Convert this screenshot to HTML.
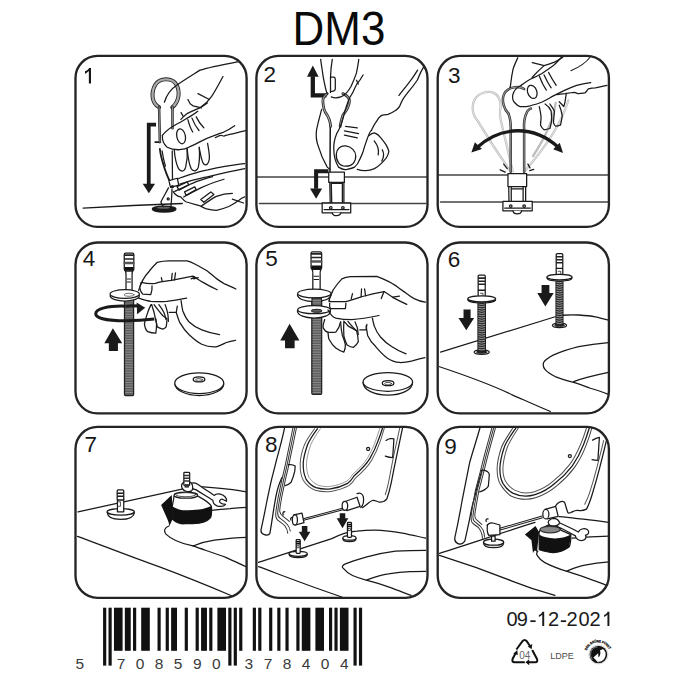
<!DOCTYPE html>
<html><head><meta charset="utf-8"><style>
html,body{margin:0;padding:0;background:#fff;width:685px;height:685px;overflow:hidden}
svg{position:absolute;left:0;top:0;font-family:"Liberation Sans",sans-serif}
</style></head><body>
<svg width="685" height="685" viewBox="0 0 685 685">
<defs><clipPath id="c0"><rect x="75.5" y="55.9" width="171.1" height="171.0" rx="22" ry="22"/></clipPath><clipPath id="c1"><rect x="256.4" y="55.9" width="171.1" height="171.0" rx="22" ry="22"/></clipPath><clipPath id="c2"><rect x="437.7" y="55.9" width="171.2" height="171.0" rx="22" ry="22"/></clipPath><clipPath id="c3"><rect x="75.5" y="242.5" width="171.1" height="170.9" rx="22" ry="22"/></clipPath><clipPath id="c4"><rect x="256.4" y="242.5" width="171.1" height="170.9" rx="22" ry="22"/></clipPath><clipPath id="c5"><rect x="437.7" y="242.5" width="171.2" height="170.9" rx="22" ry="22"/></clipPath><clipPath id="c6"><rect x="75.5" y="426.9" width="171.1" height="170.9" rx="22" ry="22"/></clipPath><clipPath id="c7"><rect x="256.4" y="426.9" width="171.1" height="170.9" rx="22" ry="22"/></clipPath><clipPath id="c8"><rect x="437.7" y="426.9" width="171.2" height="170.9" rx="22" ry="22"/></clipPath></defs>
<rect width="685" height="685" fill="#fff"/>
<g clip-path="url(#c0)"><g transform="translate(75,55) scale(0.252555)" fill="none" stroke="#1a1a1a" stroke-width="5" stroke-linecap="round" stroke-linejoin="round"><!-- ground -->
<path d="M32,606 C150,599 300,592 425,588"/>
<!-- hole -->
<ellipse cx="353" cy="610" rx="47" ry="12" fill="#1a1a1a"/>
<ellipse cx="350" cy="605" rx="26" ry="4" fill="#666" stroke="none"/>
<!-- arrow bracket -->
<path d="M321,276 L292,276 L292,512" stroke-width="15" stroke-linecap="butt" stroke-linejoin="miter"/>
<path d="M268,510 L317,510 L292.5,547 Z" fill="#1a1a1a" stroke="none"/>
<path d="M318,345 L338,345" stroke-width="7"/>
<!-- ring -->
<path d="M333,207 C303,190 300,150 318,118 C335,90 385,88 402,118 C418,148 410,188 385,207" stroke="#2a2a2a" stroke-width="16"/>
<path d="M333,207 C303,190 300,150 318,118 C335,90 385,88 402,118 C418,148 410,188 385,207" stroke="#aaa" stroke-width="9"/>
<!-- legs -->
<g stroke="#2a2a2a" stroke-width="10"><path d="M333,205 L336,345"/><path d="M386,205 L386,290"/></g>
<g stroke="#aaa" stroke-width="3"><path d="M333,205 L336,345"/><path d="M386,205 L386,290"/></g>
<!-- pin lower -->
<path d="M336,372 C338,395 345,420 355,450 C362,470 368,485 373,495" stroke-width="7"/>
<path d="M385,380 L386,490"/>
<path d="M345,380 C348,400 352,420 358,440"/>
<path d="M370,526 C360,545 350,562 340,582 M384,530 C384,550 382,575 380,600 M340,582 C342,590 345,596 350,600"/>
<path d="M372,497 L405,488 L411,515 L378,524 Z" fill="#fff"/>
<circle cx="386" cy="521" r="4"/><circle cx="369" cy="570" r="4"/>
<!-- hand top edge -->
<path d="M354,187 C362,160 380,135 405,118 C430,100 460,82 495,60 C530,48 590,37 668,22"/>
<!-- index finger -->
<path d="M586,85 C575,105 560,135 541,164 C530,180 520,192 500,205"/>
<path d="M487,153 L532,176"/>
<path d="M447,176 L456,193 L467,201 L501,209"/>
<path d="M419,255 C428,246 436,238 444,232 C462,222 480,215 495,209 C505,203 515,196 524,190"/>
<path d="M420,228 L428,242"/>
<!-- thumb -->
<path d="M346,318 C360,300 380,286 400,275 C420,265 440,252 458,242 C470,235 480,228 486,223"/>
<path d="M346,318 C345,335 352,355 365,365 C378,372 395,376 415,375 C430,374 442,370 453,364 C470,357 485,349 496,343 C515,333 530,326 545,321 C560,315 575,309 589,305 C605,298 618,290 632,280"/>
<path d="M556,327 C565,322 572,318 578,318 C583,318 586,321 589,321 C595,320 600,316 605,316 C615,314 623,312 632,310 C650,306 662,302 675,299"/>
<ellipse cx="420" cy="322" rx="17" ry="30" transform="rotate(-12 420 322)"/>
<path d="M447,256 C452,275 458,292 466,305 M463,250 C470,268 480,286 491,299 M480,245 C488,262 498,276 510,288"/>
<!-- lower fingers -->
<path d="M393,376 C395,400 400,430 410,450 C418,462 432,465 438,445 C444,420 446,395 444,370"/>
<path d="M444,372 C447,400 450,430 460,450 C468,462 482,462 488,445 C494,420 494,395 492,365"/>
<path d="M492,368 C497,392 500,420 510,432 C520,440 530,430 532,410 C533,390 528,370 525,350"/>
<!-- lower hand -->
<path d="M410,489 C430,482 445,477 454,474 C480,466 505,459 526,455 C550,449 575,444 599,440 C625,436 650,432 672,430"/>
<path d="M415,511 C450,500 485,491 517,484 C560,474 620,460 672,450"/>
<path d="M395,540 C420,528 440,520 460,510 C490,498 520,488 545,482"/>
<path d="M404,521 L444,503 L451,514 L412,535 Z"/>
<path d="M434,542 L474,522 L480,533 L440,556 Z"/>
<path d="M498,572 L538,542 L550,552 L510,583 Z"/>
<path d="M388,540 C395,552 405,560 419,562 C428,572 432,578 439,581 C460,588 478,592 492,596 C500,600 508,605 517,608 C535,613 548,615 560,615 C580,611 595,606 609,600 C625,592 637,584 648,576 C655,570 663,565 672,562"/>
<path d="M430,562 C455,548 480,535 500,525 C530,512 560,500 590,492"/>
<path d="M500,598 C520,585 540,570 560,560 C580,552 600,548 623,548 M623,571 L667,586"/>
</g></g><g clip-path="url(#c1)"><g transform="translate(256,55) scale(0.252555)" fill="none" stroke="#1a1a1a" stroke-width="5" stroke-linecap="round" stroke-linejoin="round"><!-- surface lines -->
<path d="M4,483.5 L676,483.5" stroke="#444" stroke-width="6"/>
<path d="M14,588 L672,588" stroke="#444" stroke-width="6"/>
<!-- up arrow -->
<path d="M279,160 L225,160 L225,84" stroke-width="17" stroke-linecap="butt" stroke-linejoin="miter"/>
<path d="M202,86 L248,86 L225,42 Z" fill="#1a1a1a" stroke="none"/>
<!-- down arrow -->
<path d="M287,460 L238,460 L238,530" stroke-width="16" stroke-linecap="butt" stroke-linejoin="miter"/>
<path d="M214,529 L262,529 L238,569 Z" fill="#1a1a1a" stroke="none"/>
<!-- pin rod -->
<path d="M294,283 L293,462" stroke-width="6"/>
<!-- pin ring in fingers -->
<path d="M282,153 C270,162 263,172 265,185 C266,200 268,215 275,228 C282,238 292,248 296,283 M344,153 C360,160 372,170 370,185 C368,205 355,225 344,238 C338,255 335,270 333,283" stroke="#2a2a2a" stroke-width="11"/><path d="M282,153 C270,162 263,172 265,185 C266,200 268,215 275,228 C282,238 292,248 296,283 M344,153 C360,160 372,170 370,185 C368,205 355,225 344,238 C338,255 335,270 333,283" stroke="#aaa" stroke-width="4"/>
<!-- fingers from top -->
<path d="M256,17 C259,40 262,57 265,80 C268,100 271,110 274,125 C276,135 279,147 282,153"/>
<path d="M302,17 C298,40 296,60 295,88 L295,148"/>
<path d="M295,88 L308,88 Q314,89 314,96 L314,135 Q313,142 306,143 L295,145"/>
<path d="M407,17 C405,35 402,50 398,70 C392,90 385,105 376,125 C365,145 350,160 338,165 C325,170 310,171 298,166"/>
<path d="M424,79 C415,95 408,105 400,114 C392,128 388,138 384,147 C378,157 374,165 370,170"/>
<path d="M398,100 L405,115"/>
<!-- left sliver -->
<path d="M260,215 C252,245 245,270 240,295 C236,320 240,345 248,365 C255,390 265,415 282,444 L293,453"/>
<!-- thumb -->
<path d="M370,170 C360,195 350,225 345,250 C338,275 330,295 320,310 C312,330 307,350 308,370 C308,395 312,420 327,444 C340,453 352,455 361,453 C375,450 385,447 390,444 C400,435 405,428 407,421 C415,405 420,395 424,382 C430,360 436,345 441,330 C448,310 452,298 458,298"/>
<path d="M668,40 C655,60 648,75 639,99 C625,120 615,132 604,145 C592,160 582,172 576,186 C572,196 570,202 567,206 C562,212 558,216 552,220 C542,227 533,231 523,235 C515,237 507,237 500,238 C494,241 490,245 486,249 C480,258 476,265 471,272 C465,282 461,290 457,298"/>
<path d="M640,60 C625,85 610,105 596,122 C585,135 575,148 566,160"/>
<path d="M318,392 C320,370 335,358 355,360 C378,363 395,380 395,400 C395,425 380,440 355,440 C330,440 316,418 318,392 Z"/>
<path d="M355,283 L401,289 M350,300 L406,311 M350,317 L401,328"/>
<!-- right fingers curl -->
<path d="M446,320 C455,312 462,308 469,308 C480,312 487,318 492,325 C500,335 508,345 514,354 C520,365 525,375 526,382 C524,395 520,402 514,410 C505,420 498,428 492,433 C485,440 475,447 469,450 C455,456 445,458 435,458 C420,459 410,456 401,453"/>
<path d="M468,340 C480,355 488,375 484,395 M500,375 C508,390 505,408 498,420"/>
<!-- anchor -->
<rect x="288" y="464" width="62" height="40" fill="#fff"/>
<path d="M292,504 L294,592 M298,504 L300,592 M342,504 L342,592 M348,504 L348,592"/>
<path d="M300,508 L342,508"/>
<rect x="262" y="586" width="113" height="39" fill="#fff"/>
<path d="M270,612 L368,612"/>
<path d="M302,625 C305,640 332,640 336,625" fill="#fff"/>
<circle cx="296" cy="605" r="5"/><circle cx="344" cy="605" r="5"/>
</g></g><g clip-path="url(#c2)"><g transform="translate(437,55) scale(0.252555)" fill="none" stroke="#1a1a1a" stroke-width="5" stroke-linecap="round" stroke-linejoin="round"><path d="M4,475 L676,475" stroke="#444" stroke-width="6"/>
<path d="M14,582 L676,582" stroke="#444" stroke-width="6"/>
<!-- ghost pins -->
<g stroke="#bdbdbd" stroke-width="9">
<path d="M162,262 C140,240 135,200 150,175 C165,150 200,140 225,150 C250,162 255,195 250,220 C248,235 252,260 260,290 L300,460"/>
<path d="M162,262 C185,300 220,360 292,462"/>
<path d="M520,180 C505,230 470,320 345,462"/>
<path d="M470,190 C460,260 420,340 380,400"/>
</g>
<g stroke="#f3f3f3" stroke-width="3">
<path d="M162,262 C140,240 135,200 150,175 C165,150 200,140 225,150 C250,162 255,195 250,220 C248,235 252,260 260,290 L300,460"/>
<path d="M162,262 C185,300 220,360 292,462"/>
<path d="M520,180 C505,230 470,320 345,462"/>
</g>
<!-- dark pin -->
<g stroke="#333" stroke-width="10">
<path d="M283,232 C265,215 258,185 262,165 C268,140 290,128 318,127 C330,127 338,130 345,135"/>
<path d="M283,232 C290,250 293,270 292,300 L292,462"/>
<path d="M345,300 C342,260 348,240 358,222 C365,215 370,212 372,212 M345,300 L345,462"/>
</g>
<g stroke="#999" stroke-width="4">
<path d="M283,232 C265,215 258,185 262,165 C268,140 290,128 318,127 C330,127 338,130 345,135"/>
<path d="M283,232 C290,250 293,270 292,300 L292,462"/>
<path d="M345,300 C342,260 348,240 358,222 C365,215 370,212 372,212 M345,300 L345,462"/>
</g>
<!-- sparks -->
<path d="M264,432 L278,450 M250,455 L270,464 M360,432 L368,447 M367,458 L383,453"/>
<!-- curved double arrow -->
<path d="M160,365 C210,320 270,300 320,300 C370,300 430,320 480,365" stroke-width="13" stroke-linecap="butt"/>
<path d="M136,386 L150,345 L178,372 Z" fill="#1a1a1a" stroke="none"/>
<path d="M499,388 L486,347 L460,373 Z" fill="#1a1a1a" stroke="none"/>
<!-- anchor -->
<rect x="281" y="470" width="74" height="51" fill="#fff"/>
<path d="M284,521 L285,580 M294,521 L294,580 M341,521 L341,580 M351,521 L351,580"/>
<path d="M295,530 L340,530"/>
<rect x="261" y="580" width="116" height="37" fill="#fff"/>
<path d="M268,606 L370,606"/>
<path d="M301,617 C303,633 332,633 335,617" fill="#fff"/>
<circle cx="292" cy="598" r="5"/><circle cx="345" cy="598" r="5"/>
<!-- hand -->
<path d="M320,11 C312,28 305,42 301,57 C297,75 294,95 292,113 C291,120 290,126 289,130"/>
<path d="M377,30 C392,34 408,39 424,42 C438,38 452,33 465,28 C477,22 488,15 498,9 M377,88 C392,72 408,56 424,42"/>
<path d="M606,9 C590,30 560,50 530,62" stroke-width="4"/>
<path d="M335,119 C316,128 304,142 300,158 C298,170 300,180 306,187 C314,196 321,202 329,204 C342,206 356,204 369,201 C384,197 399,193 414,187 C430,180 446,170 461,162 C476,154 492,146 507,139 C522,132 538,125 553,120 C572,115 590,111 609,109"/>
<path d="M335,119 C347,110 358,102 369,96 C384,89 399,82 414,74 C430,64 446,53 461,42 C472,32 483,20 493,9"/>
<path d="M475,157 C486,155 496,154 507,153 C520,151 532,149 544,148 C551,149 556,153 562,153 C570,153 578,151 586,150 C592,146 595,138 600,134 C609,131 618,130 627,130 C642,127 658,123 673,120"/>
<ellipse cx="377" cy="146" rx="18" ry="27" transform="rotate(-20 377 146)"/>
<path d="M405,83 C412,102 421,122 433,139 M424,79 C432,97 441,114 452,130 M442,69 C451,87 461,104 472,120"/>
<path d="M405,204 C408,218 411,232 412,245 C412,256 410,266 410,278 C414,286 418,292 424,296 C432,295 440,293 447,291 C450,280 453,270 454,259 C454,245 453,233 452,222 C447,210 438,200 428,194"/>
<path d="M447,194 C453,203 460,212 465,222 C464,238 462,253 461,268 C464,275 467,280 470,282 C476,281 482,279 489,278 C492,265 494,253 496,241 C494,227 490,212 484,199"/>
<path d="M484,185 C490,191 496,197 502,204 C504,197 506,191 507,185 C509,174 510,163 512,153"/>
</g></g><g clip-path="url(#c3)"><g transform="translate(75,241) scale(0.252555)" fill="none" stroke="#1a1a1a" stroke-width="5" stroke-linecap="round" stroke-linejoin="round"><!-- threaded rod -->
<rect x="196" y="230" width="36" height="382" rx="4" fill="#5e5e5e" stroke="#222" stroke-width="5"/>
<path d="M199,240 H229 M199,250 H229 M199,260 H229 M199,270 H229 M199,280 H229 M199,290 H229 M199,300 H229 M199,310 H229 M199,320 H229 M199,330 H229 M199,340 H229 M199,350 H229 M199,360 H229 M199,370 H229 M199,380 H229 M199,390 H229 M199,400 H229 M199,410 H229 M199,420 H229 M199,430 H229 M199,440 H229 M199,450 H229 M199,460 H229 M199,470 H229 M199,480 H229 M199,490 H229 M199,500 H229 M199,510 H229 M199,520 H229 M199,530 H229 M199,540 H229 M199,550 H229 M199,560 H229 M199,570 H229 M199,580 H229 M199,590 H229 M199,600 H229" stroke="#a8a8a8" stroke-width="2.5" stroke-linecap="butt"/>
<!-- upper bolt -->
<path d="M199,118 C203,124 203,130 202,140 L202,198 L226,198 L226,140 C225,130 225,124 229,118 Z" fill="#fff"/>
<path d="M207,150 L220,150 M207,162 L220,162" stroke-width="4"/>
<rect x="195" y="48" width="38" height="70" rx="6" fill="#fff"/>
<path d="M197,56 H231" stroke="#222" stroke-width="7"/>
<path d="M197,71 H231" stroke="#222" stroke-width="6"/>
<path d="M197,87 H231" stroke="#555" stroke-width="10"/>
<rect x="196" y="103" width="36" height="14" fill="#111" stroke="none"/>
<!-- washer on rod -->
<path d="M139,216 C139,230 170,238 197,238 C225,238 255,230 255,216" fill="#fff"/>
<ellipse cx="197" cy="210" rx="58" ry="17" fill="#fff"/>
<ellipse cx="214" cy="213" rx="20" ry="6" fill="#fff" stroke="#444" stroke-width="3"/>
<!-- rotation arrow -->
<path d="M200,258 C130,256 82,268 82,288 C82,306 130,316 200,316 C250,316 290,312 314,309" stroke-width="12" stroke-linecap="butt"/>
<path d="M232,257 C220,256 210,257 200,258" stroke-width="12" stroke-linecap="butt"/>
<path d="M244,244 L278,264 L246,290 Z" fill="#1a1a1a" stroke="none"/>
<rect x="228" y="251" width="18" height="12" fill="#1a1a1a" stroke="none"/>
<!-- up arrow -->
<path d="M150,345 L116,405 L134,405 L134,436 L170,436 L170,405 L187,405 Z" fill="#1a1a1a" stroke="none"/>
<!-- hand -->
<path d="M252,196 C260,170 270,145 290,125 C300,110 310,100 325,85 C345,80 360,79 371,79 L444,79 C460,83 472,90 484,96 C500,105 512,112 524,119 C540,132 550,140 558,147 C572,157 582,164 592,170 C610,178 625,184 637,190"/>
<path d="M258,180 L262,164 C280,168 300,170 318,168 L330,164 C350,160 368,157 382,156 L427,147 L467,139 C485,150 495,157 507,164 C525,175 545,185 563,193"/>
<path d="M256,185 C258,195 262,205 268,210 L300,212 C304,200 306,188 305,178"/>
<path d="M382,156 L385,128 M394,154 L398,126 M345,160 L342,145 M474,143 L460,150 M470,150 L488,145"/>
<path d="M252,226 C270,232 285,237 301,239 C320,240 342,240 364,239 C390,236 415,231 442,226"/>
<!-- lower fingers -->
<path d="M301,252 C296,262 291,272 288,283 C283,298 278,312 275,327 C276,340 280,352 288,359 C298,363 308,365 320,365 C322,352 323,340 323,327 C320,312 316,298 313,283 C310,272 306,262 304,252"/>
<path d="M313,252 C320,262 326,270 332,277 C338,285 343,291 348,296 C354,300 359,304 364,308 C364,320 363,330 361,340 C357,345 352,348 348,349 C340,347 332,344 326,340 C323,330 321,318 320,308"/>
<path d="M332,252 C340,262 347,272 352,283 C356,292 358,302 360,310 M357,252 C362,265 366,280 368,293 C369,302 369,310 370,318"/>
<path d="M373,283 L401,283 M405,258 L401,283"/>
<!-- wrist -->
<path d="M420,236 C422,250 424,265 427,277 C434,295 442,310 452,321 C468,336 485,346 502,352 C525,361 548,367 572,371"/>
<path d="M401,283 C405,296 409,309 414,321 C425,340 437,357 452,371 C468,386 485,400 502,409 C520,417 540,420 559,419 C575,415 587,408 597,403 C610,398 622,395 635,393"/>
<!-- washer on ground -->
<path d="M396,566 C396,590 440,612 492,612 C545,612 589,590 589,566" fill="#fff"/>
<ellipse cx="492" cy="563" rx="97" ry="41" fill="#fff"/>
<ellipse cx="491" cy="548" rx="23" ry="10"/>
<ellipse cx="491" cy="550" rx="14" ry="5" stroke-width="3"/>
</g></g><g clip-path="url(#c4)"><g transform="translate(256,241) scale(0.252555)" fill="none" stroke="#1a1a1a" stroke-width="5" stroke-linecap="round" stroke-linejoin="round"><!-- threaded rod -->
<rect x="221" y="222" width="39" height="385" rx="4" fill="#5e5e5e" stroke="#222" stroke-width="5"/>
<path d="M224,230 H257 M224,240 H257 M224,250 H257 M224,260 H257 M224,270 H257 M224,280 H257 M224,290 H257 M224,300 H257 M224,310 H257 M224,320 H257 M224,330 H257 M224,340 H257 M224,350 H257 M224,360 H257 M224,370 H257 M224,380 H257 M224,390 H257 M224,400 H257 M224,410 H257 M224,420 H257 M224,430 H257 M224,440 H257 M224,450 H257 M224,460 H257 M224,470 H257 M224,480 H257 M224,490 H257 M224,500 H257 M224,510 H257 M224,520 H257 M224,530 H257 M224,540 H257 M224,550 H257 M224,560 H257 M224,570 H257 M224,580 H257 M224,590 H257 M224,600 H257" stroke="#a8a8a8" stroke-width="2.5" stroke-linecap="butt"/>
<!-- upper bolt -->
<path d="M222,112 C226,118 226,124 225,134 L225,200 L254,200 L254,134 C253,124 253,118 257,112 Z" fill="#fff"/>
<path d="M230,140 L248,140 M230,152 L248,152" stroke-width="4"/>
<rect x="218" y="43" width="42" height="69" rx="6" fill="#fff"/>
<path d="M220,51 H258" stroke="#222" stroke-width="7"/>
<path d="M220,65 H258" stroke="#222" stroke-width="6"/>
<path d="M220,81 H258" stroke="#555" stroke-width="10"/>
<rect x="219" y="97" width="40" height="14" fill="#111" stroke="none"/>
<!-- washer 1 -->
<path d="M164,212 C164,230 195,240 231,240 C265,240 297,230 297,212" fill="#fff"/>
<ellipse cx="231" cy="208" rx="66" ry="17" fill="#fff"/>
<rect x="222" y="226" width="37" height="34" fill="#5e5e5e" stroke="#222" stroke-width="5"/>
<path d="M225,235 H256 M225,245 H256 M225,255 H256" stroke="#a8a8a8" stroke-width="2.5"/>
<!-- washer 2 -->
<path d="M164,276 C164,295 195,305 231,305 C265,305 295,295 295,276" fill="#fff"/>
<ellipse cx="230" cy="272" rx="65" ry="16" fill="#fff"/>
<ellipse cx="240" cy="276" rx="20" ry="6" fill="#5e5e5e" stroke="#222" stroke-width="4"/>
<!-- up arrow -->
<path d="M133,328 L96,394 L115,394 L115,425 L153,425 L153,394 L172,394 Z" fill="#1a1a1a" stroke="none"/>
<!-- hand -->
<path d="M289,238 C292,222 298,210 306,193 C318,175 330,160 340,150 C350,145 360,142 374,141 L478,140 C495,146 510,153 524,160 C540,168 550,175 558,180 C570,190 582,198 592,205 C605,215 615,222 626,228 C640,235 655,240 671,242"/>
<path d="M289,238 L297,240 L354,240 C375,235 395,228 410,223 C430,218 450,212 467,208 L507,200 C520,208 530,215 541,223 C560,233 580,243 597,251"/>
<path d="M292,246 C290,258 292,265 297,268 L354,268 L356,246"/>
<path d="M377,229 L382,208 M416,221 L418,190 M434,217 L430,190 M507,200 L496,228 M541,222 L568,218"/>
<path d="M285,273 C295,292 305,302 316,305 C340,310 360,311 379,311 C420,309 455,302 487,295"/>
<!-- lower fingers -->
<path d="M272,311 C268,325 264,335 266,343 C272,355 278,360 285,361 C295,362 305,362 316,361 C325,350 332,335 335,320"/>
<path d="M285,361 C286,372 287,380 288,387 C296,402 305,415 316,424 C327,432 338,438 348,440 C352,430 354,420 354,412 C352,398 346,385 342,374 C338,355 336,338 335,320"/>
<path d="M348,317 C346,340 347,360 348,377 C352,392 356,404 361,412 C370,418 378,421 386,421 C395,414 402,406 405,399 C404,382 402,368 398,355 C388,348 375,343 364,336 C358,328 352,322 348,317"/>
<path d="M364,318 C372,328 380,340 398,355 M392,320 C400,335 404,350 405,370"/>
<path d="M411,352 L436,352 M439,330 L436,352"/>
<!-- wrist -->
<path d="M461,305 C463,318 466,328 468,336 C475,355 483,368 493,380 C507,396 520,408 537,418 C555,430 575,440 594,447"/>
<path d="M436,336 C438,350 440,362 442,374 C450,392 460,405 474,418 C488,435 502,450 518,462 C535,474 550,480 568,481 C585,482 600,479 619,475 C635,470 652,465 669,462"/>
<!-- washer on ground -->
<path d="M424,560 C424,590 470,610 522,610 C574,610 620,590 620,560" fill="#fff"/>
<ellipse cx="522" cy="558" rx="98" ry="37" fill="#fff"/>
<ellipse cx="523" cy="563" rx="23" ry="10"/>
<ellipse cx="523" cy="565" rx="14" ry="5" stroke-width="3"/>
</g></g><g clip-path="url(#c5)"><g transform="translate(437,241) scale(0.252555)" fill="none" stroke="#1a1a1a" stroke-width="5" stroke-linecap="round" stroke-linejoin="round"><path d="M14,440 L468,300"/>
<path d="M495,294 C520,292 545,292 561,293 C590,295 610,297 627,300 C645,304 660,309 679,313"/>
<path d="M679,402 C640,405 600,410 561,418 C520,428 490,438 462,451 C440,462 428,472 422,481 C418,495 422,503 429,510 C440,522 455,530 468,537 C490,546 515,553 541,560 C565,567 585,575 607,583 C630,590 655,598 676,606"/>
<path d="M541,557 C560,549 575,545 594,540 C620,533 650,526 679,520"/>
<path d="M10,498 C100,528 200,562 300,610 C350,632 400,655 449,675"/>
<ellipse cx="177" cy="440" rx="30" ry="9" fill="#fff"/>
<ellipse cx="177" cy="440" rx="21.0" ry="5" fill="#555" stroke-width="3"/>
<rect x="162" y="232" width="30" height="208" fill="#2a2a2a" stroke="#1a1a1a" stroke-width="4"/>
<path d="M165,240 Q177,245 189,240 M165,249 Q177,254 189,249 M165,258 Q177,263 189,258 M165,267 Q177,272 189,267 M165,276 Q177,281 189,276 M165,285 Q177,290 189,285 M165,294 Q177,299 189,294 M165,303 Q177,308 189,303 M165,312 Q177,317 189,312 M165,321 Q177,326 189,321 M165,330 Q177,335 189,330 M165,339 Q177,344 189,339 M165,348 Q177,353 189,348 M165,357 Q177,362 189,357 M165,366 Q177,371 189,366 M165,375 Q177,380 189,375 M165,384 Q177,389 189,384 M165,393 Q177,398 189,393 M165,402 Q177,407 189,402 M165,411 Q177,416 189,411 M165,420 Q177,425 189,420 M165,429 Q177,434 189,429" stroke="#bbb" stroke-width="3"/>
<rect x="163" y="195" width="28" height="37" fill="#fff"/>
<path d="M172,207 L182,207 L182,219 L172,219" stroke-width="3"/>
<rect x="163" y="135" width="28" height="60" rx="4" fill="#fff"/>
<path d="M165,147 H189" stroke="#222" stroke-width="6"/>
<path d="M165,159 H189" stroke="#222" stroke-width="6"/>
<path d="M165,171 H189" stroke="#222" stroke-width="6"/>
<path d="M122,232 C122,250 232,250 232,232" fill="#ddd"/>
<ellipse cx="177" cy="229" rx="55" ry="12" fill="#fff"/><ellipse cx="485" cy="334" rx="28" ry="9" fill="#fff"/>
<ellipse cx="485" cy="334" rx="19.599999999999998" ry="5" fill="#555" stroke-width="3"/>
<rect x="471" y="146" width="28" height="188" fill="#2a2a2a" stroke="#1a1a1a" stroke-width="4"/>
<path d="M474,154 Q485,159 496,154 M474,163 Q485,168 496,163 M474,172 Q485,177 496,172 M474,181 Q485,186 496,181 M474,190 Q485,195 496,190 M474,199 Q485,204 496,199 M474,208 Q485,213 496,208 M474,217 Q485,222 496,217 M474,226 Q485,231 496,226 M474,235 Q485,240 496,235 M474,244 Q485,249 496,244 M474,253 Q485,258 496,253 M474,262 Q485,267 496,262 M474,271 Q485,276 496,271 M474,280 Q485,285 496,280 M474,289 Q485,294 496,289 M474,298 Q485,303 496,298 M474,307 Q485,312 496,307 M474,316 Q485,321 496,316 M474,325 Q485,330 496,325" stroke="#bbb" stroke-width="3"/>
<rect x="472" y="108" width="26" height="38" fill="#fff"/>
<path d="M480,120 L490,120 L490,132 L480,132" stroke-width="3"/>
<rect x="472" y="50" width="26" height="58" rx="4" fill="#fff"/>
<path d="M474,62 H496" stroke="#222" stroke-width="6"/>
<path d="M474,74 H496" stroke="#222" stroke-width="6"/>
<path d="M474,86 H496" stroke="#222" stroke-width="6"/>
<path d="M435,146 C435,163 535,163 535,146" fill="#ddd"/>
<ellipse cx="485" cy="143" rx="50" ry="11" fill="#fff"/>
<path d="M105,271 L133,271 L133,305 L147,305 L116,353 L85,305 L105,305 Z" fill="#1a1a1a" stroke="none"/>
<path d="M414,174 L445,174 L445,206 L462,206 L429,259 L397,206 L414,206 Z" fill="#1a1a1a" stroke="none"/>
</g></g><g clip-path="url(#c6)"><g transform="translate(75,426) scale(0.252555)" fill="none" stroke="#1a1a1a" stroke-width="5" stroke-linecap="round" stroke-linejoin="round"><path d="M12,340 L433,248"/>
<path d="M482,239 C530,243 575,247 614,251 C640,254 660,258 684,262"/>
<path d="M542,334 C570,331 595,328 614,327 C640,325 660,323 684,322"/>
<path d="M372,396 C355,402 350,415 360,428 C380,448 420,465 467,475 C510,490 555,505 597,520 C620,530 650,545 684,560"/>
<path d="M467,475 C500,462 530,455 552,452 C600,446 640,442 684,441"/>
<path d="M10,437 C100,470 200,510 340,560 C420,590 520,630 620,672"/>
<!-- left bolt -->
<path d="M128,341 C128,360 150,370 181,370 C212,370 235,360 235,341" fill="#fff"/>
<ellipse cx="181" cy="340" rx="54" ry="13" fill="#fff"/>
<rect x="168" y="290" width="25" height="50" fill="#fff"/>
<path d="M172,300 L180,300 L180,318 L172,318" stroke-width="3"/>
<rect x="167" y="253" width="26" height="40" rx="4" fill="#fff"/>
<path d="M169,266 H191 M169,278 H191" stroke="#1a1a1a" stroke-width="6"/>
<!-- right: cylinder -->
<path d="M392,278 C390,300 386,310 385,318 L385,368 C400,382 420,388 436,387 C460,387 480,386 491,385 C515,380 532,372 538,360 C542,345 541,330 540,318 C530,300 500,285 487,278 Z" fill="#fff"/>
<path d="M385,318 C400,328 418,334 436,334 C455,334 475,333 491,331 C510,328 528,323 540,317 C542,335 542,348 538,360 C530,372 515,380 491,385 C475,386 455,387 436,387 C420,388 400,382 385,368 Z" fill="#111" stroke="none"/>
<!-- curved arrow head + tail -->
<path d="M341,313 L383,273 L386,318 L386,369 L374,396 C372,385 370,378 366,369 Z" fill="#111" stroke="none"/>
<!-- cylinder top -->
<ellipse cx="439" cy="274" rx="47" ry="12" fill="#fff"/>
<ellipse cx="439" cy="272" rx="40" ry="8" fill="#fff" stroke-width="3"/>
<!-- wrench -->
<path d="M460,226 C470,224 478,226 484,230 C505,244 530,260 552,275 C556,270 566,268 576,270 C592,274 602,286 600,298 L588,292 C582,288 575,290 573,296 C571,302 576,306 584,308 L596,310 C590,318 575,320 562,316 C552,312 546,302 546,294 C522,280 500,265 478,252 C470,250 462,248 456,246 Z" fill="#fff"/>
<path d="M432,222 C424,226 420,236 424,246 C430,258 448,263 460,258 C468,252 468,238 462,228 C456,220 442,218 432,222 Z" fill="#fff"/>
<!-- bolt top -->
<rect x="431" y="184" width="23" height="52" rx="3" fill="#fff"/>
<path d="M433,196 H452 M433,207 H452 M433,218 H452" stroke="#333" stroke-width="6"/>
<rect x="434" y="230" width="17" height="14" fill="#333" stroke="none"/>
</g></g><g clip-path="url(#c7)"><g transform="translate(256,426) scale(0.252555)" fill="none" stroke="#1a1a1a" stroke-width="5" stroke-linecap="round" stroke-linejoin="round"><!-- counter -->
<path d="M10,540 L300,446 C330,430 370,418 399,416 C430,413 460,412 495,413 C530,416 555,420 580,424 C610,430 640,437 672,444"/>
<path d="M672,492 C630,492 590,493 552,495 C510,500 475,508 439,518 C405,528 375,537 354,546 C340,552 340,560 345,563 C355,575 365,585 382,592 C400,600 420,606 439,611 C470,620 500,628 524,637 C555,648 585,660 614,671"/>
<path d="M439,609 C465,600 495,590 524,586 C555,581 585,578 609,577 C630,576 650,576 672,576"/>
<path d="M10,557 C100,590 200,630 340,677"/>
<!-- lid strip -->
<path d="M113,8 C105,45 92,95 81,135 C74,165 67,190 61,214 C54,245 49,270 44,293 C36,335 28,375 20,410 C16,430 48,438 55,425 C62,385 68,340 75,300 C80,270 86,245 94,225 C98,215 100,210 102,205"/>
<path d="M146,8 C138,50 128,95 120,135 C114,165 108,190 102,214 C96,245 90,270 86,293 C82,315 79,335 78,350 C78,362 82,370 90,376 C100,383 110,390 116,398 C122,406 125,415 126,425" stroke="#333" stroke-width="4"/>
<path d="M153,8 C145,50 135,95 127,135 C121,165 115,190 109,214 C103,245 97,270 93,293 C89,315 86,333 86,345 C86,355 90,362 97,367 C107,374 117,382 124,390 C131,398 134,406 136,416" stroke="#333" stroke-width="4"/>
<path d="M160,8 C152,50 142,95 134,135 C128,165 122,190 116,214 C110,245 104,270 100,293 C96,312 94,328 94,338 C95,346 100,352 106,357 C115,364 124,371 132,378" stroke="#333" stroke-width="4"/>
<path d="M128,153 C138,152 150,154 155,158 C155,168 154,175 153,181 C149,198 145,210 139,223 C132,230 124,234 116,236"/>
<path d="M108,352 C104,345 108,338 114,340 M138,372 C135,365 140,360 146,362"/>
<!-- seat opening (oval) -->
<path d="M243,11 C225,35 212,55 204,74 C195,100 188,125 187,147 C186,172 190,192 198,210 C210,228 222,238 238,244 C258,250 276,251 295,249 C320,246 342,238 363,227 C375,218 382,208 388,198 C410,178 435,155 450,130 C465,105 476,80 484,57 C490,40 496,25 501,8"/>
<path d="M232,11 C214,35 200,55 192,74 C182,100 176,125 175,147 C174,175 178,197 187,215 C200,235 215,248 235,254 C256,260 276,261 296,259 C322,256 345,248 368,236 C380,228 388,216 394,206 C418,186 443,162 458,136 C473,110 484,84 492,60 C498,42 503,25 508,8" stroke="#555" stroke-width="4"/>
<path d="M255,11 C238,35 225,55 217,74 C208,100 201,125 200,147 C199,170 203,188 210,204 C222,220 234,230 248,235 C265,240 280,241 295,239 C318,236 338,229 358,219 C370,211 377,202 382,192 C405,172 428,150 442,126 C456,102 467,78 475,55 C480,38 486,24 491,8" stroke="#777" stroke-width="3"/>
<circle cx="444" cy="91" r="6"/>
<!-- seat right edge -->
<path d="M580,8 C572,45 565,80 558,113 C550,150 542,190 535,227 C530,250 524,272 518,289 C510,300 498,303 484,300 C475,297 468,293 461,295 C452,298 448,302 444,306 C436,313 428,318 422,323"/>
<path d="M569,8 C561,45 554,80 546,113 C539,150 531,190 524,227 C520,245 516,260 512,272" stroke="#555" stroke-width="4"/>
<path d="M515,57 C525,50 540,48 546,51 C545,75 543,100 541,125 C530,125 520,122 512,119"/>
<!-- rod -->
<path d="M187,367 L342,326 M189,373 L344,332" stroke-width="4"/>
<!-- cylinders -->
<path d="M150,352 L182,345 L190,383 L157,392 Z" fill="#fff"/>
<ellipse cx="154" cy="372" rx="10" ry="20" fill="#fff"/>
<path d="M350,300 L400,282 L412,318 L360,335 Z" fill="#fff"/>
<ellipse cx="352" cy="316" rx="11" ry="18" fill="#fff"/>
<path d="M400,268 C410,262 422,268 425,280 C428,300 425,315 415,323" />
<path d="M131,508 C131,526 203,526 203,508" fill="#ddd"/>
<ellipse cx="167" cy="506" rx="36" ry="10" fill="#fff"/>
<rect x="159" y="450" width="16" height="54" rx="3" fill="#fff"/>
<path d="M161,458 H173 M161,466 H173" stroke="#111" stroke-width="6"/>
<rect x="163" y="474" width="8" height="8" fill="#fff" stroke-width="3"/><path d="M344,445 C344,462 396,462 396,445" fill="#ddd"/>
<ellipse cx="370" cy="443" rx="26" ry="9" fill="#fff"/>
<rect x="362" y="382" width="16" height="59" rx="3" fill="#fff"/>
<path d="M364,390 H376 M364,398 H376" stroke="#111" stroke-width="6"/>
<rect x="366" y="406" width="8" height="8" fill="#fff" stroke-width="3"/><path d="M181.5,396 L203.5,396 L203.5,419 L215.5,419 L192.5,456 L169.5,419 L181.5,419 Z" fill="#1a1a1a" stroke="none"/><path d="M331.5,345 L353.5,345 L353.5,365 L365.5,365 L342.5,405 L319.5,365 L331.5,365 Z" fill="#1a1a1a" stroke="none"/></g></g><g clip-path="url(#c8)"><g transform="translate(437,426) scale(0.252555)" fill="none" stroke="#1a1a1a" stroke-width="5" stroke-linecap="round" stroke-linejoin="round"><!-- counter -->
<path d="M10,504 C120,470 250,425 388,382"/>
<path d="M484,359 C550,365 620,374 685,382"/>
<path d="M535,444 C580,440 630,437 685,436"/>
<path d="M399,495 C394,502 394,510 398,514 C405,525 415,535 427,541 C450,553 480,565 512,575 C560,590 610,608 660,626 L685,637"/>
<path d="M512,575 C535,566 555,557 580,552 C615,545 650,540 685,538"/>
<path d="M10,512 C100,540 200,575 297,614 C350,635 410,655 467,671"/>
<!-- lid strip -->
<path d="M170,8 C158,50 142,100 130,142 C118,200 106,260 99,297 C90,350 80,400 71,440 C66,465 95,478 110,456 C118,420 124,395 129,369 C136,330 143,300 149,282 C155,255 162,230 168,209 C172,195 176,185 177,174"/>
<path d="M217,8 C206,50 193,95 181,142 C171,185 161,220 152,255 C146,290 140,320 136,350 C134,365 136,378 140,384 C148,392 158,398 164,402 C172,410 176,420 178,430 L180,445" stroke="#333" stroke-width="4"/>
<path d="M224,8 C213,50 200,95 188,142 C178,185 168,220 159,255 C153,290 147,320 143,350 C141,362 143,372 148,378 C156,385 166,392 172,397 C180,405 185,415 187,428 L188,440" stroke="#333" stroke-width="4"/>
<path d="M231,8 C220,50 207,95 195,142 C185,185 175,220 166,255 C160,290 154,320 150,348 C149,358 151,366 156,371 C164,378 172,384 178,390" stroke="#333" stroke-width="4"/>
<path d="M182,175 C192,176 205,182 207,192 C206,210 205,225 203,239 C195,250 182,257 169,261"/>
<!-- oval -->
<path d="M312,8 C290,40 272,65 266,85 C256,115 249,145 249,170 C249,195 253,212 261,227 C272,245 285,258 300,266 C318,275 335,278 351,278 C365,278 375,276 388,272 C420,262 445,247 467,227 C492,208 515,185 535,159 C552,135 568,105 580,74 C590,50 597,28 603,8"/>
<path d="M322,8 C302,40 285,65 278,85 C268,115 261,145 261,170 C261,192 265,207 272,220 C282,236 294,247 307,254 C323,262 338,265 352,265 C365,265 375,263 386,260 C415,250 440,236 460,218 C484,200 506,178 525,153 C542,130 557,100 569,72 C579,48 586,27 592,8" stroke="#555" stroke-width="4"/>
<path d="M300,8 C280,40 262,65 255,85 C245,115 238,145 238,170 C238,198 243,218 252,233 C264,253 278,268 295,278 C315,288 333,290 351,290 C365,290 377,288 390,284 C425,273 452,256 475,236 C500,216 524,192 544,165 C562,140 578,110 590,77 C600,52 607,30 613,8" stroke="#444" stroke-width="4"/>
<circle cx="526" cy="119" r="6"/>
<!-- seat right edge -->
<path d="M671,57 C662,95 652,135 643,170 C634,205 624,240 614,272 C606,298 598,318 592,329 C580,335 568,336 558,334 C550,333 543,336 535,340"/>
<path d="M660,57 C651,95 642,130 633,165 C624,200 614,235 604,265 C598,285 590,300 585,310" stroke="#555" stroke-width="4"/>
<path d="M616,56 C625,50 636,46 643,45 C641,75 639,105 637,136 C628,136 620,135 614,133"/>
<!-- hinge left -->
<path d="M195,378 C192,372 196,366 202,368 M198,392 C205,388 212,390 214,398"/>
<path d="M200,392 C205,385 215,382 225,385 L249,392 L249,430 L205,433 C200,425 198,405 200,392 Z" fill="#fff"/>
<!-- left bolt base -->
<path d="M184,462 C184,478 205,482 224,482 C243,482 264,478 264,462" fill="#ddd"/>
<ellipse cx="224" cy="460" rx="40" ry="12" fill="#fff"/>
<rect x="216" y="436" width="14" height="20" fill="#fff"/>
<!-- rod -->
<path d="M249,405 L416,356 M250,412 L418,363" stroke-width="4"/>
<!-- right cylinder -->
<path d="M428,330 L470,318 L480,358 L436,368 Z" fill="#fff"/>
<ellipse cx="431" cy="349" rx="12" ry="19" fill="#fff"/>
<path d="M470,315 C480,300 495,295 505,302 C512,320 515,340 520,345 C530,345 535,340 535,340"/>
<!-- gray washer + black band -->
<path d="M404,424 C404,405 440,392 448,392 C470,392 490,400 490,412 L530,430 C530,460 528,470 524,478 C500,495 480,501 461,501 C440,501 420,495 405,490 Z" fill="#fff"/>
<path d="M404,430 C420,440 440,445 467,445 C495,445 515,438 530,430 L524,478 C505,495 480,501 461,501 C440,501 420,495 405,490 Z" fill="#111" stroke="none"/>
<path d="M348,430 L390,396 L404,420 L396,500 C390,492 386,488 380,504 L374,452 Z" fill="#111" stroke="none"/>
<ellipse cx="448" cy="410" rx="40" ry="13" fill="#888" stroke="#333"/>
<!-- wrench -->
<path d="M478,380 C510,395 540,408 560,420 C565,408 582,403 595,410 C606,418 600,432 588,432 C592,440 590,448 580,452 C562,458 548,445 548,435 C520,420 495,405 470,395 Z" fill="#fff"/>
<path d="M446,372 C438,376 438,388 448,393 C460,398 478,396 484,388 C488,378 478,368 465,366 C457,366 450,368 446,372 Z" fill="#fff"/>
</g></g>
<g fill="none" stroke="#242424" stroke-width="2.35"><rect x="75.5" y="55.9" width="171.1" height="171.0" rx="22" ry="22"/><rect x="256.4" y="55.9" width="171.1" height="171.0" rx="22" ry="22"/><rect x="437.7" y="55.9" width="171.2" height="171.0" rx="22" ry="22"/><rect x="75.5" y="242.5" width="171.1" height="170.9" rx="22" ry="22"/><rect x="256.4" y="242.5" width="171.1" height="170.9" rx="22" ry="22"/><rect x="437.7" y="242.5" width="171.2" height="170.9" rx="22" ry="22"/><rect x="75.5" y="426.9" width="171.1" height="170.9" rx="22" ry="22"/><rect x="256.4" y="426.9" width="171.1" height="170.9" rx="22" ry="22"/><rect x="437.7" y="426.9" width="171.2" height="170.9" rx="22" ry="22"/></g>
<g font-size="22.5" fill="#161616">
<path d="M91,67.9 L91,83.5 L88.85,83.5 L88.85,71.00 C87.95,72.00 86.20,73.30 85,73.90 L85,71.30 C86.60,70.60 88.55,69.30 89.05,67.9 Z"/>
<text x="263.6" y="82.4">2</text>
<text x="447.9" y="83.3">3</text>
<text x="82.7" y="266.1">4</text>
<text x="265.2" y="266.3">5</text>
<text x="447.7" y="266.6">6</text>
<text x="84.6" y="451.5">7</text>
<text x="265.1" y="451.6">8</text>
<text x="444.2" y="454.2">9</text>
</g>

<g fill="#111"><rect x="103.08" y="607.7" width="3.17" height="57.90"/><rect x="108.52" y="607.7" width="3.17" height="57.90"/><rect x="113.96" y="607.7" width="8.62" height="43.10"/><rect x="124.85" y="607.7" width="5.89" height="43.10"/><rect x="133.02" y="607.7" width="3.17" height="43.10"/><rect x="141.18" y="607.7" width="8.62" height="43.10"/><rect x="157.52" y="607.7" width="3.17" height="43.10"/><rect x="165.68" y="607.7" width="3.17" height="43.10"/><rect x="171.12" y="607.7" width="5.89" height="43.10"/><rect x="184.73" y="607.7" width="3.17" height="43.10"/><rect x="195.62" y="607.7" width="3.17" height="43.10"/><rect x="201.07" y="607.7" width="5.89" height="43.10"/><rect x="209.23" y="607.7" width="3.17" height="43.10"/><rect x="217.40" y="607.7" width="8.62" height="43.10"/><rect x="228.29" y="607.7" width="3.17" height="57.90"/><rect x="233.73" y="607.7" width="3.17" height="57.90"/><rect x="239.17" y="607.7" width="3.17" height="43.10"/><rect x="252.78" y="607.7" width="3.17" height="43.10"/><rect x="258.23" y="607.7" width="3.17" height="43.10"/><rect x="269.12" y="607.7" width="3.17" height="43.10"/><rect x="277.28" y="607.7" width="3.17" height="43.10"/><rect x="285.45" y="607.7" width="3.17" height="43.10"/><rect x="296.34" y="607.7" width="3.17" height="43.10"/><rect x="301.78" y="607.7" width="8.62" height="43.10"/><rect x="315.39" y="607.7" width="8.62" height="43.10"/><rect x="329.00" y="607.7" width="3.17" height="43.10"/><rect x="334.44" y="607.7" width="3.17" height="43.10"/><rect x="339.89" y="607.7" width="8.62" height="43.10"/><rect x="353.50" y="607.7" width="3.17" height="57.90"/><rect x="358.94" y="607.7" width="3.17" height="57.90"/></g>
<g font-size="15.5" fill="#3a3a3a"><text x="75.5" y="669.4">5</text><text x="120.99" y="669.4" text-anchor="middle">7</text><text x="140.05" y="669.4" text-anchor="middle">0</text><text x="159.10" y="669.4" text-anchor="middle">8</text><text x="178.16" y="669.4" text-anchor="middle">5</text><text x="197.21" y="669.4" text-anchor="middle">9</text><text x="216.26" y="669.4" text-anchor="middle">0</text><text x="248.93" y="669.4" text-anchor="middle">3</text><text x="267.98" y="669.4" text-anchor="middle">7</text><text x="287.03" y="669.4" text-anchor="middle">8</text><text x="306.09" y="669.4" text-anchor="middle">4</text><text x="325.14" y="669.4" text-anchor="middle">0</text><text x="344.20" y="669.4" text-anchor="middle">4</text></g>
<g transform="translate(292.6,45.1) scale(0.915,1)"><text x="0" y="0" font-size="48" fill="#0a0a0a">DM3</text></g>
<g font-size="20" fill="#1a1a1a"><text x="506.62" y="625.7">0</text><text x="516.76" y="625.7">9</text><text x="548.09" y="625.7">2</text><text x="566.59" y="625.7">2</text><text x="578.52" y="625.7">0</text><text x="589.49" y="625.7">2</text><path d="M544.2,611.7 L544.2,626 L542.25,626 L542.25,614.80 C541.35,615.80 540.10,616.50 538.9000000000001,617.10 L538.9000000000001,615.10 C540.50,614.40 541.95,613.10 542.45,611.7 Z"/><path d="M609.4,611.7 L609.4,626 L607.45,626 L607.45,614.80 C606.55,615.80 605.30,616.50 604.1,617.10 L604.1,615.10 C605.70,614.40 607.15,613.10 607.65,611.7 Z"/><rect x="530.3" y="620.3" width="5.3" height="1.75"/><rect x="560.8" y="620.3" width="5.3" height="1.75"/></g>
<g fill="none" stroke="#111" stroke-width="2">
<path d="M516.4,649.5 L522.5,641.2 Q524.6,638.8 526.7,641.2 L530,646"/>
<path d="M532.2,650 L537,659 Q538.2,662.2 535,662.3 L528.5,662.3"/>
<path d="M524.8,662.3 L514.6,662.3 Q511.6,662.1 512.6,659 L515.5,653.2"/>
</g>
<g fill="#111">
<path d="M527.8,646.6 L532.3,643.9 L531.6,649.3 Z"/>
<path d="M529.2,659.3 L529.2,665.3 L525.4,662.3 Z"/>
<path d="M513.3,653.8 L517.8,654.9 L517.3,650 Z"/>
</g>
<text x="519.3" y="659" font-size="10" fill="#666">04</text>
<text x="550.3" y="658.5" font-size="9" fill="#4a4a4a">LDPE</text>
<circle cx="598.4" cy="654.5" r="8.8" fill="#111"/>
<path d="M603,649 A7.2,7.2 0 0 1 598.4,661.7 L598.4,662.8 L593.4,657.6 L598.2,653.2 L598.4,657.3 C600.6,656.4 600.8,652.2 599.9,650.6 Z" fill="#fff"/>
<path d="M592.3,659.5 A7.6,7.6 0 0 1 597.5,646.9" fill="none" stroke="#fff" stroke-width="0.45"/>
<circle cx="598.4" cy="654.5" r="9.5" fill="none" stroke="#999" stroke-width="0.4"/>
<path id="gparc" d="M586.8,650.4 A12,12 0 0 1 609.4,650.4" fill="none"/>
<text font-size="3.5" font-weight="bold" fill="#111" stroke="#111" stroke-width="0.25"><textPath href="#gparc" textLength="28" lengthAdjust="spacingAndGlyphs">DER GRÜNE PUNKT</textPath></text>

</svg>
</body></html>
